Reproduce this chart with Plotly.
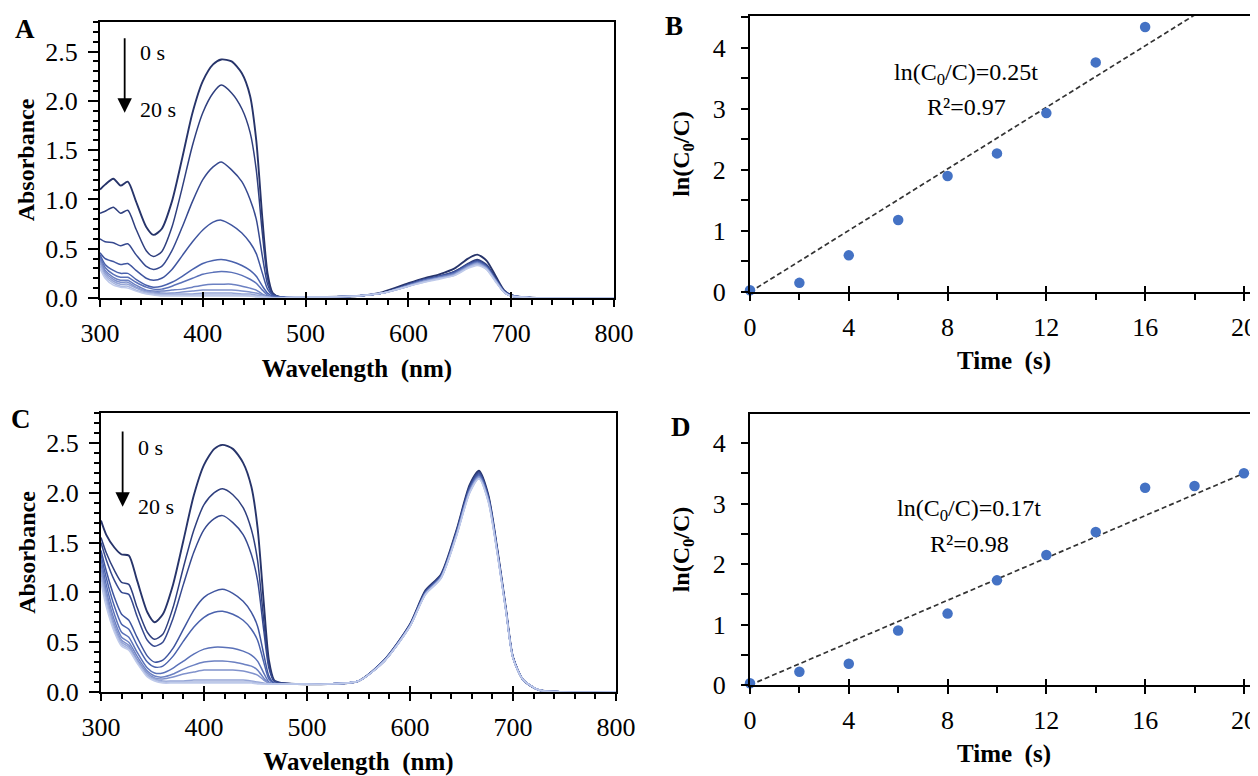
import plotly.graph_objects as go

# wavelength grids (nm)
wl_uv = [300, 305, 313, 320, 327, 335, 345, 352, 360, 370, 380, 390, 400, 410, 418, 428, 438, 446, 452, 458, 463, 468, 475]
wl_vis = [490, 520, 550, 575, 600, 615, 630, 645, 658, 667, 676, 685, 693, 700, 710, 725, 750, 800]
times = ["0 s", "2 s", "4 s", "6 s", "8 s", "10 s", "12 s", "14 s", "16 s", "18 s", "20 s"]

# panel A absorbance, one list per time
a_uv = [
    [1.10, 1.15, 1.21, 1.14, 1.18, 0.98, 0.72, 0.64, 0.70, 0.98, 1.42, 1.88, 2.20, 2.37, 2.42, 2.40, 2.28, 2.05, 1.60, 0.80, 0.25, 0.05, 0.01],
    [0.86, 0.88, 0.92, 0.86, 0.89, 0.70, 0.48, 0.42, 0.47, 0.72, 1.12, 1.55, 1.88, 2.08, 2.16, 2.08, 1.92, 1.68, 1.30, 0.65, 0.20, 0.04, 0.01],
    [0.60, 0.57, 0.56, 0.53, 0.55, 0.44, 0.32, 0.29, 0.32, 0.48, 0.72, 0.98, 1.20, 1.33, 1.38, 1.30, 1.18, 1.00, 0.80, 0.42, 0.14, 0.04, 0.01],
    [0.46, 0.40, 0.37, 0.34, 0.35, 0.28, 0.20, 0.18, 0.20, 0.29, 0.43, 0.57, 0.69, 0.77, 0.79, 0.74, 0.66, 0.56, 0.45, 0.25, 0.09, 0.03, 0.01],
    [0.44, 0.34, 0.28, 0.25, 0.25, 0.19, 0.13, 0.11, 0.12, 0.16, 0.22, 0.29, 0.35, 0.38, 0.39, 0.37, 0.33, 0.28, 0.22, 0.12, 0.05, 0.02, 0.01],
    [0.42, 0.31, 0.24, 0.21, 0.21, 0.16, 0.11, 0.09, 0.09, 0.12, 0.16, 0.20, 0.24, 0.26, 0.27, 0.26, 0.23, 0.19, 0.15, 0.08, 0.03, 0.01, 0.01],
    [0.40, 0.28, 0.21, 0.18, 0.18, 0.13, 0.08, 0.07, 0.07, 0.08, 0.09, 0.11, 0.13, 0.14, 0.14, 0.14, 0.12, 0.10, 0.08, 0.04, 0.02, 0.01, 0.00],
    [0.38, 0.26, 0.19, 0.16, 0.16, 0.11, 0.07, 0.06, 0.05, 0.05, 0.06, 0.07, 0.08, 0.08, 0.08, 0.08, 0.07, 0.06, 0.05, 0.03, 0.01, 0.00, 0.00],
    [0.36, 0.24, 0.17, 0.14, 0.14, 0.10, 0.06, 0.05, 0.04, 0.04, 0.04, 0.04, 0.05, 0.05, 0.05, 0.05, 0.04, 0.04, 0.03, 0.02, 0.01, 0.00, 0.00],
    [0.33, 0.22, 0.15, 0.12, 0.12, 0.08, 0.05, 0.04, 0.03, 0.03, 0.03, 0.03, 0.03, 0.03, 0.03, 0.03, 0.03, 0.02, 0.02, 0.01, 0.01, 0.00, 0.00],
    [0.30, 0.20, 0.13, 0.11, 0.10, 0.07, 0.04, 0.03, 0.02, 0.02, 0.02, 0.02, 0.02, 0.02, 0.02, 0.02, 0.02, 0.02, 0.01, 0.01, 0.00, 0.00, 0.00],
]
a_vis = [
    [0.01, 0.01, 0.02, 0.06, 0.15, 0.20, 0.24, 0.30, 0.40, 0.44, 0.38, 0.22, 0.08, 0.03, 0.01, 0.00, 0.00, 0.00],
    [0.01, 0.01, 0.02, 0.05, 0.14, 0.19, 0.22, 0.27, 0.35, 0.39, 0.34, 0.20, 0.07, 0.03, 0.01, 0.00, 0.00, 0.00],
    [0.01, 0.01, 0.02, 0.05, 0.14, 0.19, 0.22, 0.27, 0.34, 0.38, 0.33, 0.19, 0.07, 0.03, 0.01, 0.00, 0.00, 0.00],
    [0.01, 0.01, 0.02, 0.05, 0.13, 0.18, 0.22, 0.26, 0.34, 0.37, 0.32, 0.19, 0.07, 0.02, 0.01, 0.00, 0.00, 0.00],
    [0.01, 0.01, 0.02, 0.05, 0.13, 0.18, 0.21, 0.26, 0.33, 0.37, 0.32, 0.18, 0.07, 0.02, 0.01, 0.00, 0.00, 0.00],
    [0.01, 0.01, 0.02, 0.05, 0.13, 0.18, 0.21, 0.25, 0.33, 0.36, 0.31, 0.18, 0.06, 0.02, 0.01, 0.00, 0.00, 0.00],
    [0.01, 0.01, 0.02, 0.05, 0.13, 0.17, 0.21, 0.25, 0.32, 0.36, 0.31, 0.18, 0.06, 0.02, 0.01, 0.00, 0.00, 0.00],
    [0.01, 0.01, 0.02, 0.05, 0.12, 0.17, 0.20, 0.24, 0.32, 0.35, 0.30, 0.17, 0.06, 0.02, 0.01, 0.00, 0.00, 0.00],
    [0.01, 0.01, 0.02, 0.05, 0.12, 0.17, 0.20, 0.24, 0.31, 0.35, 0.30, 0.17, 0.06, 0.02, 0.01, 0.00, 0.00, 0.00],
    [0.01, 0.01, 0.02, 0.05, 0.12, 0.16, 0.20, 0.23, 0.31, 0.34, 0.29, 0.17, 0.06, 0.02, 0.01, 0.00, 0.00, 0.00],
    [0.01, 0.01, 0.02, 0.05, 0.12, 0.16, 0.19, 0.23, 0.30, 0.33, 0.29, 0.16, 0.06, 0.02, 0.01, 0.00, 0.00, 0.00],
]

# panel C absorbance
c_uv = [
    [1.72, 1.58, 1.45, 1.38, 1.37, 1.12, 0.80, 0.70, 0.78, 1.08, 1.52, 1.97, 2.28, 2.44, 2.48, 2.44, 2.30, 2.06, 1.65, 0.90, 0.32, 0.12, 0.09],
    [1.55, 1.40, 1.22, 1.10, 1.08, 0.85, 0.60, 0.53, 0.58, 0.85, 1.25, 1.62, 1.88, 2.00, 2.04, 1.98, 1.85, 1.63, 1.32, 0.72, 0.27, 0.11, 0.09],
    [1.50, 1.33, 1.12, 1.00, 0.98, 0.76, 0.52, 0.46, 0.50, 0.74, 1.08, 1.40, 1.63, 1.74, 1.77, 1.70, 1.58, 1.38, 1.12, 0.62, 0.24, 0.11, 0.09],
    [1.42, 1.22, 0.95, 0.78, 0.72, 0.55, 0.36, 0.30, 0.32, 0.44, 0.63, 0.82, 0.95, 1.01, 1.03, 0.99, 0.91, 0.80, 0.66, 0.38, 0.16, 0.09, 0.08],
    [1.38, 1.15, 0.86, 0.68, 0.63, 0.47, 0.30, 0.25, 0.26, 0.36, 0.51, 0.65, 0.75, 0.80, 0.81, 0.78, 0.72, 0.63, 0.52, 0.30, 0.13, 0.09, 0.08],
    [1.33, 1.08, 0.78, 0.60, 0.55, 0.40, 0.24, 0.19, 0.19, 0.24, 0.31, 0.38, 0.43, 0.45, 0.45, 0.44, 0.41, 0.37, 0.31, 0.19, 0.10, 0.08, 0.08],
    [1.28, 1.02, 0.72, 0.55, 0.50, 0.36, 0.21, 0.16, 0.15, 0.18, 0.23, 0.27, 0.30, 0.31, 0.31, 0.30, 0.28, 0.26, 0.22, 0.14, 0.09, 0.08, 0.08],
    [1.24, 0.98, 0.68, 0.52, 0.47, 0.33, 0.19, 0.14, 0.13, 0.15, 0.18, 0.20, 0.22, 0.22, 0.22, 0.22, 0.21, 0.19, 0.17, 0.12, 0.09, 0.08, 0.08],
    [1.20, 0.94, 0.65, 0.50, 0.45, 0.31, 0.17, 0.13, 0.11, 0.11, 0.11, 0.12, 0.12, 0.12, 0.12, 0.12, 0.12, 0.11, 0.10, 0.09, 0.08, 0.08, 0.08],
    [1.15, 0.90, 0.62, 0.48, 0.43, 0.30, 0.16, 0.12, 0.10, 0.10, 0.10, 0.10, 0.10, 0.10, 0.10, 0.10, 0.10, 0.10, 0.09, 0.08, 0.08, 0.08, 0.08],
    [1.10, 0.86, 0.60, 0.46, 0.42, 0.29, 0.15, 0.11, 0.09, 0.09, 0.09, 0.09, 0.09, 0.09, 0.09, 0.09, 0.09, 0.09, 0.08, 0.08, 0.08, 0.08, 0.08],
]
c_vis = [
    [0.08, 0.08, 0.11, 0.32, 0.68, 1.02, 1.18, 1.62, 2.08, 2.22, 1.98, 1.42, 0.85, 0.35, 0.12, 0.02, 0.00, 0.00],
    [0.08, 0.08, 0.11, 0.32, 0.68, 1.01, 1.17, 1.61, 2.07, 2.21, 1.97, 1.41, 0.84, 0.35, 0.12, 0.02, 0.00, 0.00],
    [0.08, 0.08, 0.11, 0.32, 0.67, 1.01, 1.17, 1.60, 2.06, 2.20, 1.96, 1.41, 0.84, 0.35, 0.12, 0.02, 0.00, 0.00],
    [0.08, 0.08, 0.11, 0.32, 0.67, 1.00, 1.16, 1.60, 2.05, 2.19, 1.95, 1.40, 0.84, 0.35, 0.12, 0.02, 0.00, 0.00],
    [0.08, 0.08, 0.11, 0.31, 0.67, 1.00, 1.16, 1.59, 2.04, 2.18, 1.95, 1.40, 0.83, 0.35, 0.12, 0.02, 0.00, 0.00],
    [0.08, 0.08, 0.11, 0.31, 0.67, 0.99, 1.15, 1.58, 2.03, 2.17, 1.94, 1.39, 0.83, 0.34, 0.12, 0.02, 0.00, 0.00],
    [0.08, 0.08, 0.11, 0.31, 0.66, 0.99, 1.15, 1.58, 2.02, 2.16, 1.93, 1.39, 0.83, 0.34, 0.12, 0.02, 0.00, 0.00],
    [0.08, 0.08, 0.11, 0.31, 0.66, 0.99, 1.15, 1.57, 2.02, 2.16, 1.93, 1.38, 0.82, 0.34, 0.12, 0.02, 0.00, 0.00],
    [0.08, 0.08, 0.11, 0.31, 0.66, 0.98, 1.14, 1.57, 2.01, 2.15, 1.92, 1.38, 0.82, 0.34, 0.12, 0.02, 0.00, 0.00],
    [0.08, 0.08, 0.11, 0.31, 0.66, 0.98, 1.14, 1.56, 2.00, 2.14, 1.91, 1.37, 0.82, 0.34, 0.12, 0.02, 0.00, 0.00],
    [0.08, 0.08, 0.11, 0.31, 0.66, 0.98, 1.14, 1.56, 2.00, 2.14, 1.91, 1.37, 0.82, 0.34, 0.12, 0.02, 0.00, 0.00],
]

# kinetics
t_b = [0, 2, 4, 6, 8, 10, 12, 14, 16]
ln_b = [0.03, 0.15, 0.60, 1.18, 1.90, 2.27, 2.93, 3.76, 4.34]
slope_b = 0.252
t_d = [0, 2, 4, 6, 8, 10, 12, 14, 16, 18, 20]
ln_d = [0.03, 0.22, 0.35, 0.90, 1.18, 1.73, 2.15, 2.53, 3.26, 3.29, 3.50]
slope_d = 0.175

line_colors = ['#27346a', '#2f3f7e', '#36498f', '#3f559f', '#4a62ad', '#5a71b8',
               '#6c81c2', '#8092cc', '#95a5d6', '#aab8e0', '#bfcaea']

# the page body adds an 8px margin, so the figure is 8px smaller than the window
# and every window pixel position below is shifted by OFF
OFF = 8
W, H = 1258 - OFF, 776 - OFF
FONT = "Liberation Serif"


def fx(px):
    return (px - OFF) / W


def fy(py):
    return 1 - (py - OFF) / H


fig = go.Figure()

wl = wl_uv + wl_vis
for i in range(len(times)):
    lw = 1.9 if i == 0 else 1.5
    fig.add_trace(go.Scatter(x=wl, y=a_uv[i] + a_vis[i], mode='lines', name=times[i],
                             line=dict(color=line_colors[i], width=lw, shape='spline', smoothing=0.7),
                             xaxis='x', yaxis='y', showlegend=False))
    fig.add_trace(go.Scatter(x=wl, y=c_uv[i] + c_vis[i], mode='lines', name=times[i],
                             line=dict(color=line_colors[i], width=lw, shape='spline', smoothing=0.7),
                             xaxis='x3', yaxis='y3', showlegend=False))

x_end = 20.57
for t, v, k, xa, ya in [(t_b, ln_b, slope_b, 'x2', 'y2'), (t_d, ln_d, slope_d, 'x4', 'y4')]:
    fig.add_trace(go.Scatter(x=[0, x_end], y=[0, k * x_end], mode='lines',
                             line=dict(color='#333333', width=1.7, dash='5px,3px'),
                             xaxis=xa, yaxis=ya, showlegend=False))
    fig.add_trace(go.Scatter(x=t, y=v, mode='markers', marker=dict(color='#4472c4', size=10.5),
                             cliponaxis=False, xaxis=xa, yaxis=ya, showlegend=False))

# empty traces so the overlay axes (inner half of the major ticks) get drawn
for xa, ya in [('x5', 'y'), ('x6', 'y2'), ('x7', 'y3'), ('x8', 'y4')]:
    fig.add_trace(go.Scatter(x=[], y=[], xaxis=xa, yaxis=ya, showlegend=False, hoverinfo='skip'))


def axis_common(**kw):
    d = dict(showline=True, linecolor='black', linewidth=2, showgrid=False, zeroline=False,
             automargin=False, ticks='outside', tickcolor='black', tickwidth=1.5,
             tickfont=dict(family=FONT, size=26, color='black'))
    d.update(kw)
    return d


def inner_ticks(over, anchor, rng, dtick):
    return dict(overlaying=over, anchor=anchor, range=rng, dtick=dtick, tick0=rng[0],
                ticks='inside', ticklen=6, tickwidth=1.5, tickcolor='black', showline=False,
                showgrid=False, zeroline=False, showticklabels=False, automargin=False)


spec_x = dict(range=[300, 800], tick0=300, dtick=100, ticklen=7, mirror=True,
              minor=dict(dtick=20, ticks='outside', ticklen=5, tickcolor='black', tickwidth=1.5),
              ticklabelstandoff=4,
              title=dict(text='<b>Wavelength  (nm)</b>', font=dict(family=FONT, size=25, color='black'), standoff=12))
spec_y = dict(range=[0, 2.8], tick0=0, dtick=0.5, tickformat='.1f', ticklen=10, mirror=True,
              minor=dict(dtick=0.1, ticks='outside', ticklen=5, tickcolor='black', tickwidth=1.5),
              ticklabelstandoff=5,
              title=dict(text='<b>Absorbance</b>', font=dict(family=FONT, size=24, color='black'), standoff=4))
kin_x = dict(range=[0, x_end], tick0=0, dtick=4, ticklen=7, mirror=True,
             minor=dict(dtick=2, ticks='outside', ticklen=6, tickcolor='black', tickwidth=1.5),
             ticklabelstandoff=4,
             title=dict(text='<b>Time  (s)</b>', font=dict(family=FONT, size=25, color='black'), standoff=10))
kin_y = dict(tick0=0, dtick=1, ticklen=7,
             minor=dict(dtick=0.5, ticks='outside', ticklen=7, tickcolor='black', tickwidth=1.5),
             ticklabelstandoff=10,
             title=dict(text='<b>ln(C<sub>0</sub>/C)</b>', font=dict(family=FONT, size=24, color='black'), standoff=16))

fig.update_layout(
    template='none',
    width=W, height=H, margin=dict(l=0, r=0, t=0, b=0),
    paper_bgcolor='white', plot_bgcolor='white',
    font=dict(family=FONT, color='black'),
    xaxis=axis_common(domain=[fx(100), fx(614)], anchor='y', **spec_x),
    yaxis=axis_common(domain=[fy(298), fy(22)], anchor='x', **spec_y),
    xaxis3=axis_common(domain=[fx(101), fx(616)], anchor='y3', **spec_x),
    yaxis3=axis_common(domain=[fy(692), fy(413)], anchor='x3', **spec_y),
    xaxis2=axis_common(domain=[fx(750), 1.0], anchor='y2', **kin_x),
    yaxis2=axis_common(domain=[fy(292), fy(16)], anchor='x2', range=[0, 4.52], **kin_y),
    xaxis4=axis_common(domain=[fx(750), 1.0], anchor='y4', **kin_x),
    yaxis4=axis_common(domain=[fy(685), fy(414)], anchor='x4', range=[0, 4.48], **kin_y),
    xaxis5=inner_ticks('x', 'y', [300, 800], 100),
    xaxis6=inner_ticks('x2', 'y2', [0, x_end], 4),
    xaxis7=inner_ticks('x3', 'y3', [300, 800], 100),
    xaxis8=inner_ticks('x4', 'y4', [0, x_end], 4),
)

ann = []
# panel letters
for letter, x, y in [('A', 25, 29), ('B', 674, 26), ('C', 21, 419), ('D', 681, 427)]:
    ann.append(dict(text=f'<b>{letter}</b>', x=fx(x), y=fy(y), xref='paper', yref='paper',
                    xanchor='center', yanchor='middle', showarrow=False,
                    font=dict(family=FONT, size=27, color='black')))

# time arrows
for xa, ya, x_arr, y_top, y_tip, y0, y20 in [('x', 'y', 324, 2.65, 1.88, 2.49, 1.91),
                                             ('x3', 'y3', 321, 2.63, 1.86, 2.45, 1.86)]:
    ann.append(dict(x=x_arr, y=y_tip, ax=x_arr, ay=y_top, xref=xa, yref=ya, axref=xa, ayref=ya,
                    text='', showarrow=True, arrowhead=2, arrowsize=1.6, arrowwidth=1.8, arrowcolor='black'))
    ann.append(dict(x=x_arr + 13, y=y0, xref=xa, yref=ya, text='0 s', showarrow=False,
                    xanchor='left', yanchor='middle', font=dict(family=FONT, size=22, color='black')))
    ann.append(dict(x=x_arr + 13, y=y20, xref=xa, yref=ya, text='20 s', showarrow=False,
                    xanchor='left', yanchor='middle', font=dict(family=FONT, size=22, color='black')))

# fit equations
for xa, ya, x, y1, y2, eq, r2 in [('x2', 'y2', 8.75, 3.57, 3.03, '0.25t', '0.97'),
                                  ('x4', 'y4', 8.87, 2.89, 2.33, '0.17t', '0.98')]:
    ann.append(dict(x=x, y=y1, xref=xa, yref=ya, showarrow=False, xanchor='center', yanchor='middle',
                    text=f'ln(C<sub>0</sub>/C)={eq}', font=dict(family=FONT, size=24, color='black')))
    ann.append(dict(x=x, y=y2, xref=xa, yref=ya, showarrow=False, xanchor='center', yanchor='middle',
                    text=f'R²={r2}', font=dict(family=FONT, size=24, color='black')))

fig.update_layout(annotations=ann)

fig.write_html("out.html")
